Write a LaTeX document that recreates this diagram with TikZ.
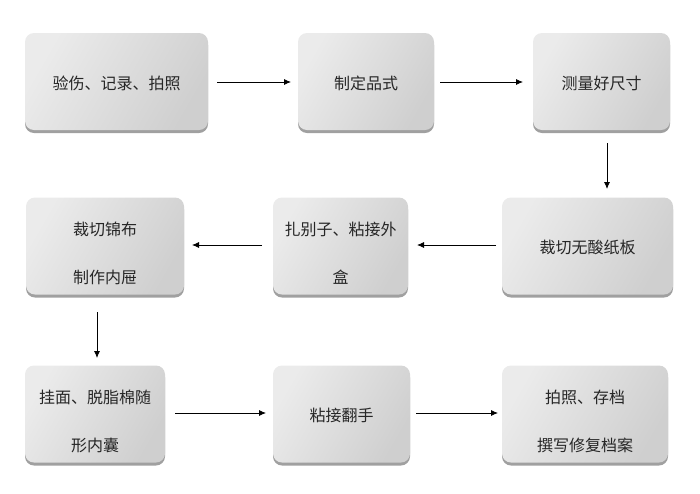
\documentclass[tikz,border=0pt]{standalone}
\usepackage{fontspec}
\setmainfont{Noto Sans CJK SC}
\usetikzlibrary{shadows,arrows.meta}
\begin{document}
\begin{tikzpicture}[x=1pt,y=-1pt,
  box/.style={rounded corners=9pt, left color=boxlight, right color=boxdark, shading angle=60,
    draw=none, drop shadow={shadow xshift=0pt, shadow yshift=-3pt, fill=black!50, opacity=0.75},
    minimum height=97pt, inner sep=0pt},
  txt/.style={align=center, font=\fontsize{16}{48}\selectfont, text=black!85, inner sep=0pt},
  arr/.style={-{Latex[length=7pt,width=6pt]}, line width=0.8pt, black}]
\definecolor{boxlight}{HTML}{EBEBEB}
\definecolor{boxdark}{HTML}{CFCFCF}
\useasboundingbox (0,0) rectangle (700,493);
\node[box, minimum width=183pt] (a) at (116.5,81.5) {};
\node[box, minimum width=136pt] (b) at (366,81.5) {};
\node[box, minimum width=137pt] (c) at (601.5,81.5) {};
\node[box, minimum width=171pt] (d) at (587.5,246) {};
\node[box, minimum width=135pt] (e) at (340.5,246) {};
\node[box, minimum width=158pt] (f) at (105,246) {};
\node[box, minimum width=140pt] (g) at (95,414) {};
\node[box, minimum width=137pt] (h) at (341.5,414) {};
\node[box, minimum width=166pt] (i) at (585,414) {};
\node[txt] (at) at ([yshift=-1.5pt]a.center) {验伤、记录、拍照};
\node[txt] (bt) at ([yshift=-1.5pt]b.center) {制定品式};
\node[txt] (ct) at ([yshift=-1.5pt]c.center) {测量好尺寸};
\node[txt] (dt) at ([yshift=-1.5pt]d.center) {裁切无酸纸板};
\node[txt] (et) at ([yshift=-7pt]e.center) {扎别子、粘接外\\盒};
\node[txt] (ft) at ([yshift=-7pt]f.center) {裁切锦布\\制作内屉};
\node[txt] (gt) at ([yshift=-7pt]g.center) {挂面、脱脂棉随\\形内囊};
\node[txt] (ht) at ([yshift=-1.5pt]h.center) {粘接翻手};
\node[txt] (it) at ([yshift=-7pt]i.center) {拍照、存档\\撰写修复档案};
\coordinate (a1) at (217,82); \coordinate (a2) at (291,82);
\coordinate (b1) at (440,82); \coordinate (b2) at (523,82);
\coordinate (c1) at (607,143); \coordinate (c2) at (607,189);
\coordinate (d1) at (496,245); \coordinate (d2) at (417,245);
\coordinate (e1) at (262,245); \coordinate (e2) at (192,245);
\coordinate (f1) at (97,312); \coordinate (f2) at (97,358);
\coordinate (g1) at (175,413); \coordinate (g2) at (266,413);
\coordinate (h1) at (416,413); \coordinate (h2) at (498,413);
\draw[arr] (a1) -- (a2);
\draw[arr] (b1) -- (b2);
\draw[arr] (c1) -- (c2);
\draw[arr] (d1) -- (d2);
\draw[arr] (e1) -- (e2);
\draw[arr] (f1) -- (f2);
\draw[arr] (g1) -- (g2);
\draw[arr] (h1) -- (h2);
\end{tikzpicture}
\end{document}
